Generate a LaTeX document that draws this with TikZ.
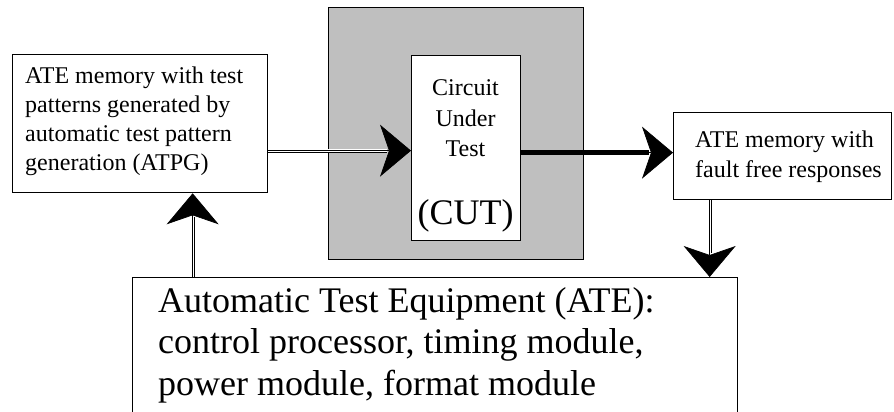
\documentclass[tikz,border=0pt]{standalone}
\usepackage{fontspec}
\setmainfont{Liberation Serif}
\usetikzlibrary{arrows.meta}
\begin{document}
\begin{tikzpicture}[x=1pt,y=-1pt,
  box/.style={draw=black, line width=1.3pt, fill=white, inner sep=0pt, anchor=north west},
  txt/.style={inner sep=0pt, anchor=base west, align=left, font=\fontsize{24}{29}\selectfont},
  ctxt/.style={inner sep=0pt, anchor=base, font=\fontsize{24}{29}\selectfont},
  triline/.style={draw=black, double=white, double distance=2.4pt, line width=0.9pt, shorten >=24pt},
  midline/.style={draw=black, line width=0.7pt},
  bighead/.style={-{Stealth[length=31pt,width=52pt,inset=9pt]}}
]
\useasboundingbox (0,0) rectangle (894,412);
\clip (0,0) rectangle (894,412);

% boxes
\node[box, fill=black!25, minimum width=255pt, minimum height=252pt] (gray) at (328,7) {};
\node[box, minimum width=255pt, minimum height=138pt] (lbox) at (12,54) {};
\node[box, minimum width=109pt, minimum height=185pt] (cut) at (411,55) {};
\node[box, minimum width=218pt, minimum height=87pt] (rbox) at (673,112) {};
\node[box, minimum width=605pt, minimum height=160pt] (ate) at (132,277) {};

% texts (base anchor = baseline of the last line)
\node[txt] (ltext) at (25,170) {ATE memory with test\\patterns generated by\\automatic test pattern\\generation (ATPG)};
\node[ctxt] (c1) at (465.5,95.5) {Circuit};
\node[ctxt] (c2) at (465.5,126) {Under};
\node[ctxt] (c3) at (465.5,156.5) {Test};
\node[ctxt, font=\fontsize{36}{40}\selectfont] (c4) at (465.5,224) {(CUT)};
\node[txt, font=\fontsize{24}{30}\selectfont] (rtext) at (695,177) {ATE memory with\\fault free responses};
\node[txt, font=\fontsize{36}{41.5}\selectfont] (atetext) at (158,395) {Automatic Test Equipment (ATE):\\control processor, timing module,\\power module, format module};

% connector 1: left box -> CUT (triple line)
\draw[triline] ([yshift=-2.5pt]lbox.east |- cut.west) -- ([yshift=-2.5pt]cut.west);
\draw[midline, bighead] ([yshift=-2.5pt]lbox.east |- cut.west) -- ([yshift=-2.5pt]cut.west);

% connector 2: CUT -> right box (thick)
\draw[line width=5pt, shorten >=24pt] ([yshift=-4.5pt]cut.east) -- ([yshift=-4.5pt]cut.east -| rbox.west);
\draw[midline, bighead] ([yshift=-4.5pt]cut.east) -- ([yshift=-4.5pt]cut.east -| rbox.west);

% connector 3: ATE -> left box (up)
\draw[triline] ([xshift=52.5pt]lbox.south |- ate.north) -- ([xshift=52.5pt]lbox.south);
\draw[midline, bighead] ([xshift=52.5pt]lbox.south |- ate.north) -- ([xshift=52.5pt]lbox.south);

% connector 4: right box -> ATE (down)
\draw[triline] ([xshift=-73pt]rbox.south) -- ([xshift=-73pt]rbox.south |- ate.north);
\draw[midline, bighead] ([xshift=-73pt]rbox.south) -- ([xshift=-73pt]rbox.south |- ate.north);
\end{tikzpicture}
\end{document}
